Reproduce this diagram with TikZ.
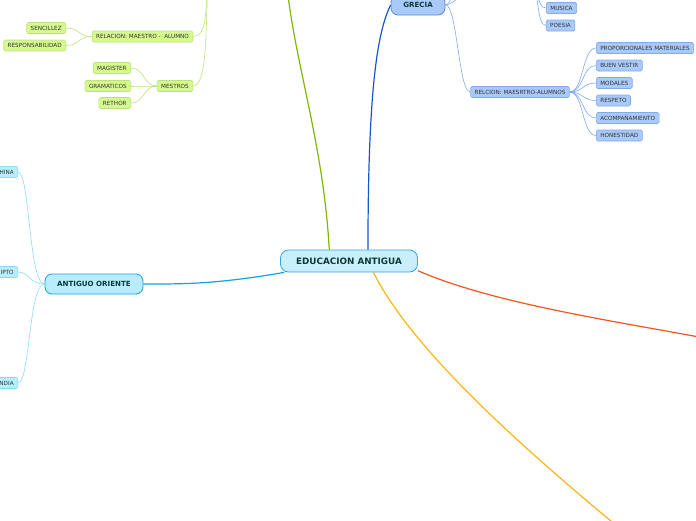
\documentclass[tikz,border=0pt]{standalone}
\usepackage{fontspec}
\setmainfont{DejaVu Sans}
\usetikzlibrary{positioning}
\definecolor{cyanfill}{HTML}{B9ECFC}
\definecolor{cyanline}{HTML}{12A2E2}
\definecolor{cyanleaf}{HTML}{8ED8F4}
\definecolor{bluefill}{HTML}{A9C9F8}
\definecolor{blueline}{HTML}{1656CC}
\definecolor{blueleaf}{HTML}{7EAAF0}
\definecolor{greenfill}{HTML}{D6F98E}
\definecolor{greenline}{HTML}{80B800}
\definecolor{greenleaf}{HTML}{BEE27A}
\definecolor{redline}{HTML}{F25522}
\definecolor{orangeline}{HTML}{F8B612}
\definecolor{maintext}{HTML}{0A3A38}
\definecolor{eduborder}{HTML}{2EA6DE}
\definecolor{edufill}{HTML}{C9EFFC}

\begin{document}
\begin{tikzpicture}[x=1pt,y=-1pt,
 root/.style={draw=eduborder,fill=edufill,line width=0.8pt,rounded corners=8pt,
 minimum width=137pt,minimum height=22pt,inner sep=0pt,
 font=\fontsize{8.8}{10}\selectfont\bfseries,text=maintext},
 topic/.style={line width=0.8pt,rounded corners=7pt,minimum height=20pt,inner sep=0pt,
 font=\fontsize{7.1}{8}\selectfont\bfseries,text=maintext},
 leaf/.style={line width=0.6pt,rounded corners=1.5pt,minimum height=11pt,
 inner xsep=4pt,inner ysep=0pt,font=\fontsize{5.7}{6.5}\selectfont,text=black!80},
 cyanleafbox/.style={leaf,draw=cyanleaf,fill=cyanfill},
 blueleafbox/.style={leaf,draw=blueleaf,fill=bluefill},
 greenleafbox/.style={leaf,draw=greenleaf,fill=greenfill},
 thick branch/.style={line width=1.2pt},
 thin branch/.style={line width=0.6pt}]
\useasboundingbox (0,0) rectangle (696,520);

\node[root] (edu) at (349,261) {EDUCACION ANTIGUA};
\node[topic,draw=cyanline,fill=cyanfill,minimum width=98pt] (oriente) at (94,284) {ANTIGUO ORIENTE};
\node[topic,draw=blueline!70,fill=bluefill,minimum width=54pt] (grecia) at (418,5) {GRECIA};

\node[cyanleafbox,anchor=east] (china) at (18,172) {CHINA};
\node[cyanleafbox,anchor=east] (egipto) at (18,272) {EGIPTO};
\node[cyanleafbox,anchor=east] (india) at (18,383) {INDIA};

\node[blueleafbox] (musica) at (561.5,8) {MUSICA};
\node[blueleafbox] (poesia) at (560.5,25.5) {POESIA};
\node[blueleafbox] (relcion) at (520,92) {RELCION: MAESRTRO-ALUMNOS};
\node[blueleafbox,anchor=west] (propor) at (596,48) {PROPORCIONALES MATERIALES};
\node[blueleafbox,anchor=west] (vestir) at (596,65.5) {BUEN VESTIR};
\node[blueleafbox,anchor=west] (modales) at (596,83) {MODALES};
\node[blueleafbox,anchor=west] (respeto) at (596,100.5) {RESPETO};
\node[blueleafbox,anchor=west] (acomp) at (596,118) {ACOMPAÑAMIENTO};
\node[blueleafbox,anchor=west] (honest) at (596,135.5) {HONESTIDAD};

\node[greenleafbox] (relacion) at (142.5,36.5) {RELACION: MAESTRO -\ \ ALUMNO};
\node[greenleafbox,anchor=east] (sencillez) at (66,28) {SENCILLEZ};
\node[greenleafbox,anchor=east] (respons) at (66,45.5) {RESPONSABILIDAD};
\node[greenleafbox] (mestros) at (175,86) {MESTROS};
\node[greenleafbox,anchor=east] (magister) at (131,68) {MAGISTER};
\node[greenleafbox,anchor=east] (gramat) at (131,86) {GRAMATICOS};
\node[greenleafbox,anchor=east] (rethor) at (131,103) {RETHOR};

\coordinate (roma) at (286,-25);
\coordinate (romaW) at (208,-30);
\coordinate (greA) at (470,-40);
\coordinate (greB) at (476,-14);
\coordinate (artesE) at (530,-14);
\coordinate (redEnd) at (725,342);
\coordinate (orangeEnd) at (640,545);

\draw[thick branch,greenline] (edu.150) .. controls +(-6,-110) and +(6,80) .. (roma);
\draw[thick branch,blueline] (edu.31) .. controls +(0,-170) and +(-12,25) .. (grecia.west);
\draw[thick branch,cyanline] (edu.190) .. controls +(-70,12) and +(40,0) .. (oriente.east);
\draw[thick branch,redline] (edu.-8) .. controls +(80,35) and +(-90,-18) .. (redEnd);
\draw[thick branch,orangeline] (edu.-25) .. controls +(40,80) and +(-110,-90) .. (orangeEnd);

\foreach \c in {china,egipto,india}
 \draw[thin branch,cyanleaf] (oriente.west) .. controls +(-16,0) and +(12,0) .. (\c.east);

\draw[thin branch,blueleaf] (grecia.east) .. controls +(12,0) and +(-12,0) .. (relcion.west);
\draw[thin branch,blueleaf] (grecia.east) .. controls +(8,0) and +(-8,0) .. (greA);
\draw[thin branch,blueleaf] (grecia.east) .. controls +(10,0) and +(-10,0) .. (greB);
\foreach \c in {musica,poesia}
 \draw[thin branch,blueleaf] (artesE) .. controls +(10,0) and +(-10,0) .. (\c.west);
\foreach \c in {propor,vestir,modales,respeto,acomp,honest}
 \draw[thin branch,blueleaf] (relcion.east) .. controls +(14,0) and +(-14,0) .. (\c.west);

\draw[thin branch,greenleaf] (relacion.east) .. controls +(14,0) and +(-2,40) .. (romaW);
\draw[thin branch,greenleaf] (mestros.east) .. controls +(14,0) and +(-2,60) .. (romaW);
\foreach \c in {sencillez,respons}
 \draw[thin branch,greenleaf] (\c.east) .. controls +(14,0) and +(-14,0) .. (relacion.west);
\foreach \c in {magister,gramat,rethor}
 \draw[thin branch,greenleaf] (\c.east) .. controls +(14,0) and +(-14,0) .. (mestros.west);
\end{tikzpicture}
\end{document}
